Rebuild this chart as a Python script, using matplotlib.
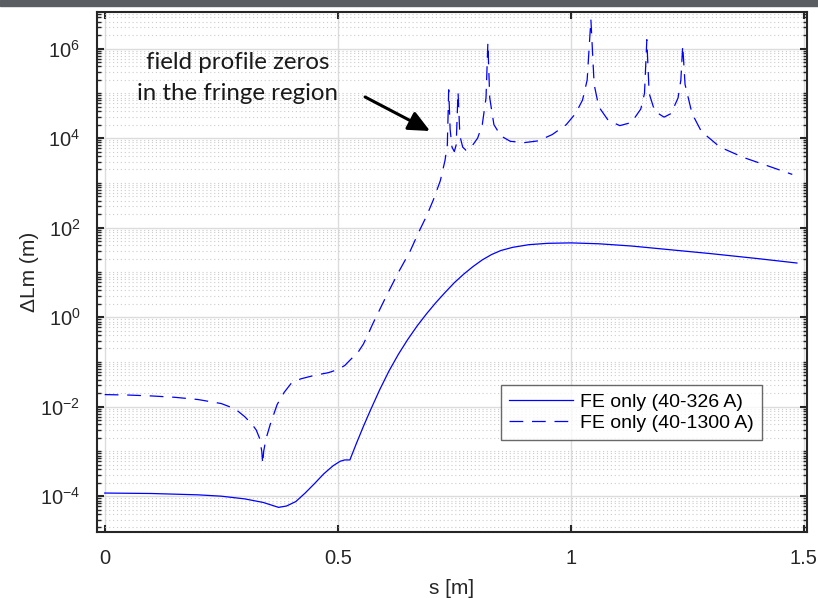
import numpy as np
import matplotlib.pyplot as plt
from matplotlib.ticker import LogLocator, NullFormatter
from matplotlib.patches import Rectangle

plt.rcParams['font.family'] = ['Liberation Sans', 'DejaVu Sans']
plt.rcParams['mathtext.default'] = 'regular'

# FE only (40-326 A): position s [m] and log10 of the length error
s_low = [0.00, 0.10, 0.20, 0.25, 0.30, 0.34, 0.373, 0.39, 0.41, 0.43, 0.45, 0.47,
         0.49, 0.505, 0.515, 0.526, 0.54, 0.555, 0.57, 0.59, 0.61, 0.63, 0.65,
         0.67, 0.69, 0.71, 0.73, 0.75, 0.77, 0.79, 0.81, 0.83, 0.85,
         0.875, 0.91, 0.95, 1.00, 1.06, 1.13, 1.20, 1.30, 1.40, 1.485]
lg_low = [-3.93, -3.94, -3.97, -4.00, -4.06, -4.14, -4.25, -4.22, -4.12, -3.93, -3.72, -3.50,
          -3.32, -3.22, -3.19, -3.19, -2.82, -2.44, -2.08, -1.62, -1.20, -0.83, -0.50,
          -0.20, 0.07, 0.32, 0.55, 0.77, 0.96, 1.13, 1.28, 1.40, 1.49,
          1.56, 1.62, 1.65, 1.66, 1.64, 1.59, 1.52, 1.42, 1.31, 1.21]

# FE only (40-1300 A)
s_high = [0.00, 0.05, 0.10, 0.15, 0.20, 0.25, 0.28, 0.30, 0.315, 0.325, 0.332, 0.337,
          0.339, 0.341, 0.346, 0.355, 0.37, 0.385, 0.40, 0.42, 0.45, 0.48, 0.50, 0.515,
          0.53, 0.545, 0.555, 0.565, 0.575, 0.59, 0.605, 0.63, 0.655, 0.675, 0.69, 0.705,
          0.72, 0.73, 0.735,
          0.738, 0.741, 0.745, 0.75, 0.754, 0.758, 0.762, 0.768, 0.775, 0.785, 0.80,
          0.81, 0.818, 0.822, 0.826, 0.835, 0.85, 0.87, 0.90, 0.93, 0.96, 0.99, 1.01,
          1.025, 1.035, 1.043, 1.05, 1.06, 1.08, 1.105, 1.13, 1.15, 1.158, 1.163,
          1.168, 1.18, 1.20, 1.215, 1.23, 1.236, 1.24, 1.245, 1.26, 1.28, 1.32, 1.37,
          1.42, 1.475]
lg_high = [-1.73, -1.74, -1.76, -1.79, -1.84, -1.93, -2.05, -2.22, -2.38, -2.52, -2.70, -3.00,
           -3.28, -3.00, -2.72, -2.40, -1.95, -1.68, -1.48, -1.38, -1.30, -1.24, -1.17, -1.08,
           -0.92, -0.76, -0.60, -0.38, -0.15, 0.17, 0.49, 1.00, 1.47, 1.93, 2.25, 2.62,
           3.05, 3.50, 3.85,
           5.08, 4.20, 3.80, 3.70, 3.85, 5.03, 4.05, 3.80, 3.73, 3.78, 4.00,
           4.30, 4.90, 6.13, 4.90, 4.30, 4.05, 3.93, 3.90, 3.94, 4.08, 4.30, 4.55,
           4.85, 5.30, 6.65, 5.20, 4.70, 4.40, 4.28, 4.35, 4.65, 5.00, 6.20,
           5.00, 4.60, 4.47, 4.55, 4.90, 5.30, 6.07, 5.20, 4.55, 4.15, 3.80, 3.57,
           3.39, 3.19]

y_low = 10.0 ** np.array(lg_low)
y_high = 10.0 ** np.array(lg_high)

fig = plt.figure(figsize=(8.18, 5.98), dpi=100)
fig.patches.append(Rectangle((0, 1 - 6 / 598), 1, 6 / 598, transform=fig.transFigure,
                             color='#5a5e62', zorder=0))
ax = fig.add_axes([0.1186, 0.1104, 0.8676, 0.8696])

ax.plot(s_low, y_low, color='#0000ff', lw=0.9, label='FE only (40-326 A)')
ax.plot(s_high, y_high, color='#0000ff', lw=0.9, linestyle=(0, (11, 7)),
        label='FE only (40-1300 A)')

ax.set_yscale('log')
ax.set_xlim(-0.0165, 1.506)
ax.set_ylim(10 ** -4.8, 10 ** 6.82)
ax.set_xticks([0, 0.5, 1, 1.5])
ax.set_xticklabels(['0', '0.5', '1', '1.5'])
ax.set_yticks([1e-4, 1e-2, 1e0, 1e2, 1e4, 1e6])
ax.set_yticklabels([r'$10^{-4}$', r'$10^{-2}$', r'$10^{0}$', r'$10^{2}$', r'$10^{4}$', r'$10^{6}$'])
ax.yaxis.set_minor_locator(LogLocator(base=10, subs=np.arange(1, 10), numticks=50))
ax.yaxis.set_minor_formatter(NullFormatter())

ax.grid(True, which='major', color='#dcdcdc', lw=1.0, ls='-')
ax.grid(True, which='minor', axis='y', color='#cccccc', lw=0.8, ls=(0, (1, 2.5)))
ax.set_axisbelow(True)

for sp in ax.spines.values():
    sp.set_linewidth(1.5)
    sp.set_color('#262626')
ax.tick_params(which='both', direction='in', top=True, right=True, colors='#262626',
               labelsize=14.5)
ax.tick_params(which='major', length=5, width=1.5, pad=12)
ax.tick_params(which='minor', length=3, width=1.0)

ax.set_xlabel('s [m]', fontsize=15, color='#262626', labelpad=8)
ax.set_ylabel('ΔLm (m)', fontsize=15, color='#262626', labelpad=1)

leg = ax.legend(loc='lower right', bbox_to_anchor=(0.937, 0.177), fontsize=14,
                fancybox=False, frameon=True, edgecolor='#444444', handlelength=3.3,
                borderpad=0.4, labelspacing=0.2, handletextpad=0.4, borderaxespad=0)
leg.get_frame().set_linewidth(1.0)

ax.annotate('', xy=(0.698, 10 ** 4.16), xytext=(0.5586, 10 ** 4.92),
            arrowprops=dict(arrowstyle='-|>,head_length=1.3,head_width=0.6',
                            color='black', lw=2.2, shrinkA=0, shrinkB=0))
ax.text(0.285, 10 ** 5.35, 'field profile zeros\nin the fringe region', family='Lato',
        fontsize=17.3, ha='center', va='center', color='#1a1a1a', linespacing=1.6)

fig.savefig('out.png', dpi=100)
